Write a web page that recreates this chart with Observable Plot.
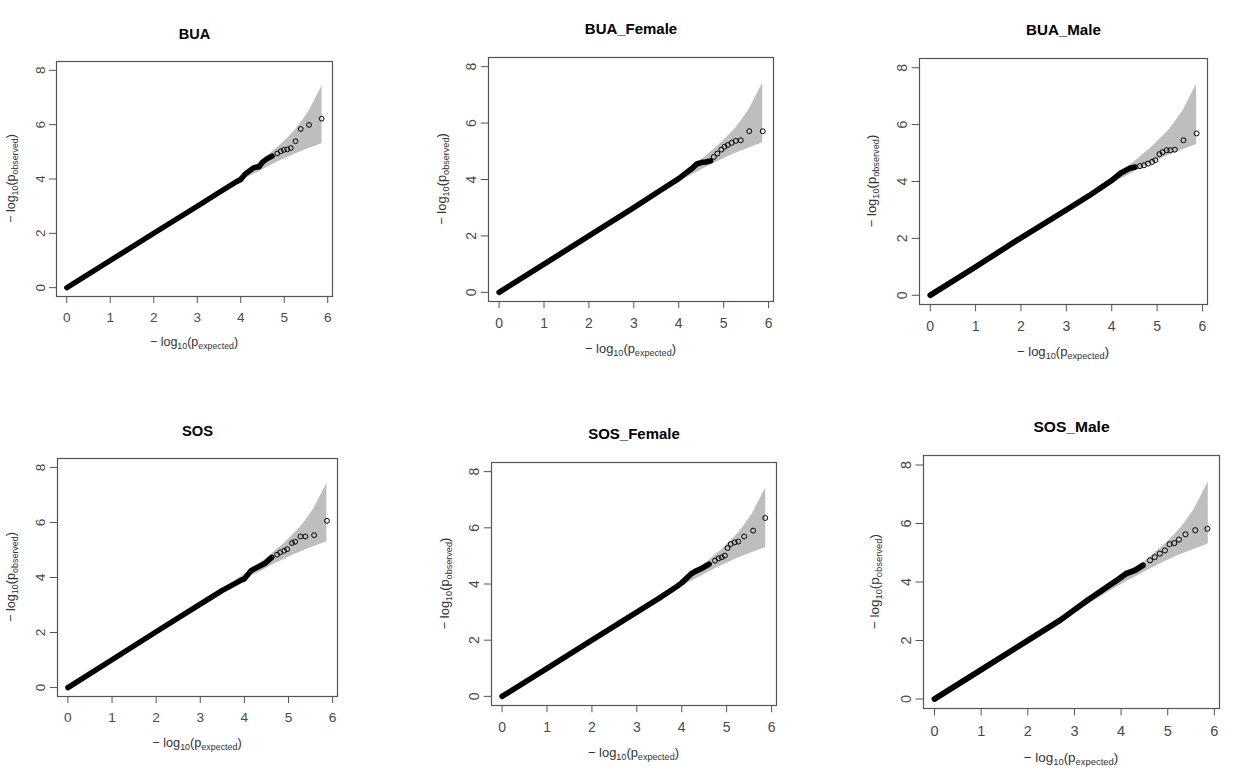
<!DOCTYPE html>
<html><head><meta charset="utf-8">
<script src="https://cdn.jsdelivr.net/npm/d3@7"></script>
<script src="https://cdn.jsdelivr.net/npm/@observablehq/plot@0.6"></script>
<style>
body{margin:0;background:#fff;}
#root{position:relative;width:1251px;height:783px;overflow:hidden;background:#fff;font-family:"Liberation Sans",Arial,sans-serif;}
#root svg{position:absolute;overflow:visible;}
</style></head><body><div id="root"></div>
<script>
// ---------- data ----------
const panelTitles = ["BUA", "BUA_Female", "BUA_Male", "SOS", "SOS_Female", "SOS_Male"];
const xTicks = [0, 1, 2, 3, 4, 5, 6];
const yTicks = [0, 2, 4, 6, 8];

// 95% confidence band (expected, lower, upper)
const bandX  = [2.87, 3.5, 3.87, 4.17, 4.39, 4.57, 4.69, 4.87, 5.02, 5.17, 5.27, 5.39, 5.57, 5.87];
const bandLo = [2.84, 3.43, 3.79, 4.06, 4.24, 4.40, 4.50, 4.64, 4.75, 4.86, 4.93, 5.01, 5.12, 5.30];
const bandHi = [2.90, 3.57, 3.96, 4.30, 4.56, 4.78, 4.95, 5.19, 5.42, 5.66, 5.83, 6.08, 6.49, 7.42];

// dense part of the Q-Q points
const buaDenseX  = [0, 1, 2, 3, 3.5, 3.9, 4.0, 4.1, 4.2, 4.3, 4.42, 4.5, 4.6, 4.72];
const buaDenseY  = [0, 1, 2, 3, 3.5, 3.9, 3.98, 4.18, 4.3, 4.42, 4.45, 4.62, 4.74, 4.84];
const buaFDenseX = [0, 1, 2, 3, 3.5, 4.0, 4.2, 4.3, 4.4, 4.5, 4.6, 4.71];
const buaFDenseY = [0, 1, 2, 3, 3.52, 4.03, 4.28, 4.4, 4.55, 4.6, 4.62, 4.66];
const buaMDenseX = [0, 1, 2, 3, 3.5, 4.0, 4.2, 4.4, 4.52];
const buaMDenseY = [0, 1, 2.02, 3, 3.5, 4.04, 4.3, 4.47, 4.51];
const sosDenseX  = [0, 1, 2, 3, 3.5, 3.9, 4.0, 4.15, 4.3, 4.47, 4.62];
const sosDenseY  = [0, 1.01, 2.03, 3.03, 3.53, 3.88, 3.95, 4.25, 4.38, 4.52, 4.73];
const sosFDenseX = [0, 1, 2, 3, 3.5, 3.9, 4.0, 4.2, 4.3, 4.45, 4.61];
const sosFDenseY = [0, 1, 2, 3, 3.5, 3.92, 4.04, 4.35, 4.45, 4.56, 4.71];
const sosMDenseX = [0, 1, 2, 2.7, 3.0, 3.3, 3.7, 3.9, 4.1, 4.3, 4.47];
const sosMDenseY = [0, 1, 2, 2.7, 3.05, 3.4, 3.83, 4.05, 4.28, 4.4, 4.57];

// sparse tail points (individual circles)
const buaTailX  = [4.84, 4.92, 4.99, 5.07, 5.15, 5.26, 5.38, 5.57, 5.86];
const buaTailY  = [4.94, 5.02, 5.07, 5.09, 5.14, 5.39, 5.84, 5.99, 6.22];
const buaFTailX = [4.78, 4.86, 4.95, 5.02, 5.09, 5.18, 5.27, 5.38, 5.57, 5.87];
const buaFTailY = [4.80, 4.92, 5.06, 5.16, 5.22, 5.30, 5.37, 5.39, 5.71, 5.71];
const buaMTailX = [4.62, 4.71, 4.80, 4.89, 4.96, 5.05, 5.12, 5.21, 5.29, 5.39, 5.58, 5.87];
const buaMTailY = [4.54, 4.57, 4.63, 4.69, 4.75, 4.96, 5.03, 5.10, 5.10, 5.12, 5.45, 5.69];
const sosTailX  = [4.74, 4.81, 4.90, 4.97, 5.08, 5.15, 5.27, 5.38, 5.58, 5.87];
const sosTailY  = [4.83, 4.91, 4.97, 5.03, 5.25, 5.30, 5.49, 5.49, 5.54, 6.06];
const sosFTailX = [4.74, 4.82, 4.89, 4.96, 5.02, 5.09, 5.18, 5.26, 5.39, 5.59, 5.86];
const sosFTailY = [4.83, 4.91, 4.95, 5.01, 5.28, 5.42, 5.48, 5.51, 5.69, 5.90, 6.35];
const sosMTailX = [4.62, 4.72, 4.83, 4.94, 5.04, 5.14, 5.24, 5.38, 5.59, 5.85];
const sosMTailY = [4.74, 4.85, 4.97, 5.08, 5.29, 5.33, 5.45, 5.63, 5.77, 5.82];

// ---------- layout (plot box: left, top, width, height in page px) ----------
const layout = [
  [56, 61, 276, 235],
  [488, 57, 285, 244],
  [919, 58, 288, 246],
  [57, 458, 280, 238],
  [491, 462, 285, 243],
  [923, 455, 296, 253]
];

const denseX = [buaDenseX, buaFDenseX, buaMDenseX, sosDenseX, sosFDenseX, sosMDenseX];
const denseY = [buaDenseY, buaFDenseY, buaMDenseY, sosDenseY, sosFDenseY, sosMDenseY];
const tailX = [buaTailX, buaFTailX, buaMTailX, sosTailX, sosFTailX, sosMTailX];
const tailY = [buaTailY, buaFTailY, buaMTailY, sosTailY, sosFTailY, sosMTailY];

const root = document.getElementById("root");
const band = bandX.map((x, j) => ({x, lo: bandLo[j], hi: bandHi[j]}));

function addLabel(g, x, y, s, sub, rotate) {
  const t = g.append("text")
    .attr("text-anchor", "middle")
    .attr("font-size", 12.5 * s)
    .attr("fill", "#333")
    .attr("transform", `translate(${x},${y})` + (rotate ? " rotate(-90)" : ""));
  t.append("tspan").text("\u2212 log");
  t.append("tspan").attr("font-size", 8.8 * s).attr("dy", 3 * s).text("10");
  t.append("tspan").attr("dy", -3 * s).text("(p");
  t.append("tspan").attr("font-size", 8.8 * s).attr("dy", 3 * s).text(sub);
  t.append("tspan").attr("dy", -3 * s).text(")");
}

panelTitles.forEach((title, i) => {
  const [L, T, W, H] = layout[i];
  const s = W / 276;
  const ml = 70, mr = 12, mt = 50, mb = 70;
  const line = denseX[i].map((x, j) => ({x, y: denseY[i][j]}));
  const tail = tailX[i].map((x, j) => ({x, y: tailY[i][j]}));
  const svg = Plot.plot({
    width: W + ml + mr, height: H + mt + mb,
    marginLeft: ml, marginRight: mr, marginTop: mt, marginBottom: mb,
    x: {domain: [-0.236, 6.11]},
    y: {domain: [-0.325, 8.325]},
    style: {fontFamily: '"Liberation Sans", Arial, sans-serif', background: "transparent", color: "#4a4a4a"},
    marks: [
      Plot.areaY(band, {x: "x", y1: "lo", y2: "hi", fill: "#bebebe"}),
      Plot.line(line, {x: "x", y: "y", stroke: "#000", strokeWidth: 5.4 * s, strokeLinecap: "round", strokeLinejoin: "round"}),
      Plot.dot(tail, {x: "x", y: "y", r: 2.4 * s, stroke: "#000", strokeWidth: 1, fill: "none"}),
      Plot.frame({stroke: "#555", strokeWidth: 1.2}),
      Plot.axisX(xTicks, {anchor: "bottom", tickSize: 7 * s, tickPadding: 9 * s, fontSize: 13.5 * s, label: null, stroke: "#555"}),
      Plot.axisY(yTicks, {anchor: "left", tickSize: 7 * s, tickFormat: () => "", label: null, stroke: "#555"}),
      Plot.text(yTicks, {y: d => d, frameAnchor: "left", dx: -12 * s, rotate: -90, textAnchor: "middle", lineAnchor: "bottom", fontSize: 13.5 * s, fill: "#4a4a4a"}),
      Plot.text([title], {frameAnchor: "top", dy: -27 * s, fontSize: 14.5 * s, fontWeight: "bold", fill: "#000", lineAnchor: "middle"})
    ]
  });
  svg.style.left = (L - ml) + "px";
  svg.style.top = (T - mt) + "px";
  const g = d3.select(svg);
  addLabel(g, ml + W / 2, mt + H + 50 * s, s, "expected", false);
  addLabel(g, ml - 41 * s, mt + H / 2, s, "observed", true);
  root.appendChild(svg);
});
</script>
</body></html>
